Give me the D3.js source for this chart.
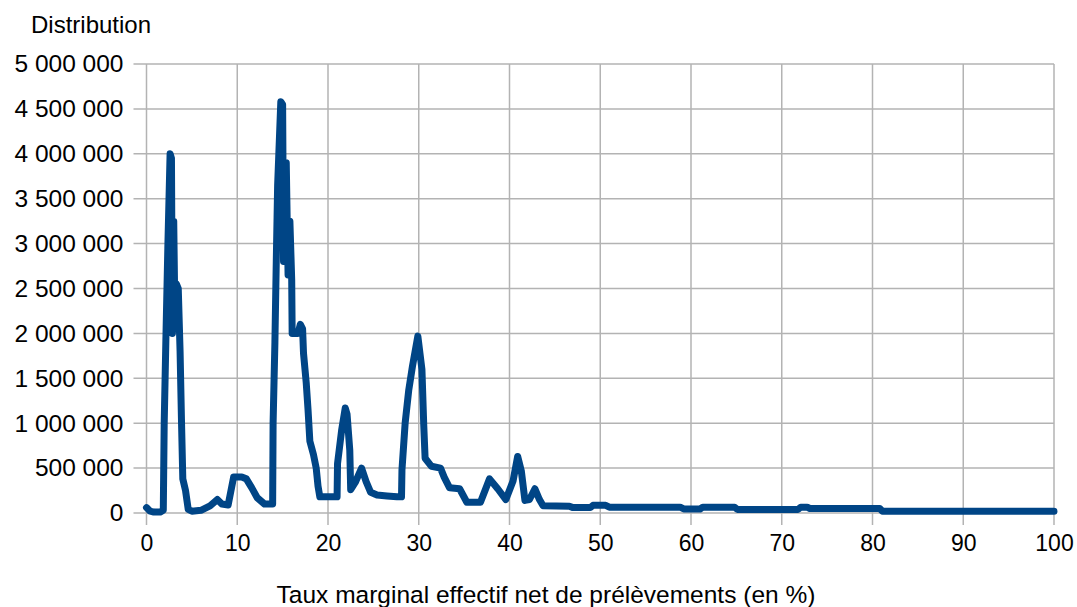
<!DOCTYPE html>
<html>
<head>
<meta charset="utf-8">
<script src="https://cdn.jsdelivr.net/npm/d3@7"></script>
<style>
  html, body { margin: 0; padding: 0; background: #fff; }
  svg { display: block; }
  text { font-family: "Liberation Sans", Arial, sans-serif; fill: #000; }
</style>
</head>
<body>
<svg id="chart" width="1077" height="607"></svg>
<script>
// ---- Data ----
const rates = [0, 0.4, 0.8, 1.5, 1.85, 1.95, 2.15, 2.35, 2.6, 2.75, 2.85, 3.0, 3.15, 3.3, 3.5, 3.7, 3.85, 4.0, 4.3, 4.6, 5.0, 6.0, 7.0, 7.8, 8.3, 9.0, 9.6, 10.5, 11.0, 11.6, 12.2, 13.0, 13.9, 13.95, 14.15, 14.3, 14.45, 14.8, 15.0, 15.1, 15.4, 15.6, 15.8, 16.0, 16.05, 16.7, 16.95, 17.2, 17.3, 17.6, 17.8, 18.0, 18.4, 18.7, 18.9, 19.1, 21.0, 21.05, 21.5, 21.9, 22.1, 22.4, 22.5, 23.0, 23.7, 24.2, 24.7, 25.4, 26.5, 27.6, 28.1, 28.15, 28.5, 28.9, 29.3, 29.9, 30.35, 30.55, 30.7, 31.4, 32.4, 32.8, 33.4, 34.5, 35.3, 36.8, 37.8, 38.7, 39.6, 40.4, 40.9, 41.3, 41.7, 42.2, 42.8, 43.3, 43.7, 46.6, 47.0, 48.9, 49.2, 50.6, 51.0, 58.8, 59.2, 61.0, 61.3, 64.8, 65.1, 71.8, 72.1, 72.8, 73.1, 80.8, 81.1, 100];
const counts = [60000, 20000, 10000, 10000, 30000, 1000000, 2000000, 2950000, 4000000, 3950000, 2000000, 3250000, 2050000, 2550000, 2500000, 1800000, 1050000, 380000, 250000, 40000, 20000, 30000, 80000, 150000, 100000, 90000, 400000, 400000, 380000, 280000, 170000, 100000, 100000, 1000000, 1900000, 2800000, 3650000, 4580000, 4550000, 2800000, 3900000, 2650000, 3250000, 2600000, 2000000, 2000000, 2100000, 2050000, 1780000, 1450000, 1150000, 800000, 650000, 500000, 300000, 180000, 180000, 550000, 920000, 1170000, 1100000, 700000, 260000, 340000, 500000, 350000, 230000, 200000, 190000, 180000, 180000, 480000, 1000000, 1370000, 1630000, 1970000, 1600000, 980000, 610000, 520000, 500000, 400000, 280000, 270000, 120000, 120000, 380000, 270000, 150000, 360000, 630000, 470000, 140000, 150000, 270000, 150000, 80000, 75000, 60000, 60000, 85000, 85000, 65000, 65000, 45000, 45000, 65000, 65000, 40000, 40000, 65000, 65000, 50000, 50000, 20000, 20000];
const xTicks = [0, 10, 20, 30, 40, 50, 60, 70, 80, 90, 100];
const yTicks = [0, 500000, 1000000, 1500000, 2000000, 2500000, 3000000, 3500000, 4000000, 4500000, 5000000];
const yTitle = "Distribution";
const xTitle = "Taux marginal effectif net de prélèvements (en %)";

(function () {
// ---- Layout ----
const pLeft = 146.5, pRight = 1054, pTop = 64, pBottom = 513;
const svg = d3.select("#chart");
const x = d3.scaleLinear().domain([0, 100]).range([pLeft, pRight]);
const y = d3.scaleLinear().domain([0, 5000000]).range([pBottom, pTop]);
const fmt = v => d3.format(",")(v).replace(/,/g, "\u00a0");

// Gridlines
svg.append("g").selectAll("line").data(yTicks).join("line")
  .attr("x1", pLeft - 13).attr("x2", pRight)
  .attr("y1", d => y(d)).attr("y2", d => y(d))
  .attr("stroke", "#b3b3b3").attr("stroke-width", 1.5);
svg.append("g").selectAll("line").data(xTicks).join("line")
  .attr("x1", d => x(d)).attr("x2", d => x(d))
  .attr("y1", pTop).attr("y2", pBottom + 12)
  .attr("stroke", "#b3b3b3").attr("stroke-width", 1.5);

// Axes (labels via d3 axes)
const yAxis = d3.axisLeft(y).tickValues(yTicks).tickFormat(fmt).tickSize(0).tickPadding(23);
const gy = svg.append("g").attr("transform", `translate(${pLeft},0)`).call(yAxis);
gy.select(".domain").remove();
gy.selectAll("text").style("font-size", "24.5px").attr("fill", "#000")
  .style("font-family", '"Liberation Sans", Arial, sans-serif');

const xAxis = d3.axisBottom(x).tickValues(xTicks).tickFormat(d3.format("d")).tickSize(0).tickPadding(22);
const gx = svg.append("g").attr("transform", `translate(0,${pBottom})`).call(xAxis);
gx.select(".domain").remove();
gx.selectAll("text").style("font-size", "23px").attr("fill", "#000")
  .style("font-family", '"Liberation Sans", Arial, sans-serif');

// Titles
svg.append("text").attr("x", 31).attr("y", 33).style("font-size", "24px").text(yTitle);
svg.append("text").attr("x", 546).attr("y", 603).attr("text-anchor", "middle").style("font-size", "24.5px").text(xTitle);

// Line
const line = d3.line().x((d, i) => x(rates[i])).y((d, i) => y(counts[i]));
svg.append("path").datum(counts)
  .attr("d", line)
  .attr("fill", "none")
  .attr("stroke", "#004586")
  .attr("stroke-width", 7)
  .attr("stroke-linejoin", "round")
  .attr("stroke-linecap", "round");
})();
</script>
</body>
</html>
